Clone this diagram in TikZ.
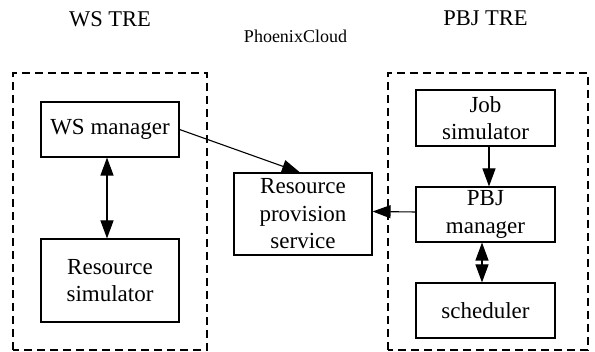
\documentclass[tikz,border=0pt]{standalone}
\usepackage{fontspec}
\setmainfont{Liberation Serif}
\usetikzlibrary{arrows.meta}
\begin{document}
\begin{tikzpicture}[x=1pt,y=1pt,
  >={Triangle[length=18pt,width=13pt]},
  box/.style={draw,line width=1.1pt,minimum width=138pt,align=center,inner sep=0pt,font=\rmfamily\fontsize{23}{27.5}\selectfont},
  group/.style={draw,line width=1.1pt,dash pattern=on 8pt off 5pt},
  title/.style={anchor=base,inner sep=0pt,font=\rmfamily\fontsize{22.5}{27}\selectfont},
  conn/.style={line width=1.1pt,->},
  dconn/.style={line width=1.1pt,<->}]
\useasboundingbox (0,0) rectangle (595,352);
% groups
\draw[group] (13,2) rectangle (207,279);
\draw[group] (388,2) rectangle (588,279);
% titles
\node[title] (tws) at (110,325) {WS TRE};
\node[title] (tpbj) at (485.5,326) {PBJ TRE};
\node[title,font=\rmfamily\fontsize{18}{22}\selectfont] (tpc) at (295.5,309) {PhoenixCloud};
% boxes
\node[box,minimum height=55pt] (wsm) at (110,222.5) {WS manager};
\node[box,minimum height=83pt] (rsim) at (110,71.5) {Resource\\simulator};
\node[box,minimum height=82pt] (rps) at (303,138) {Resource\\provision\\service};
\node[box,minimum width=139pt,minimum height=56pt] (job) at (485.5,234) {Job\\simulator};
\node[box,minimum width=139pt,minimum height=55pt] (pbj) at (485.5,137.5) {PBJ\\manager};
\node[box,minimum width=139pt,minimum height=55pt] (sch) at (485.5,41.5) {scheduler};
% connectors
\draw[dconn] ([xshift=-3pt]wsm.south) -- ([xshift=-3pt]rsim.north);
\draw[conn] (wsm.east) -- ([xshift=-3pt]rps.north);
\draw[conn] ([xshift=3.5pt]job.south) -- ([xshift=3.5pt]pbj.north);
\draw[conn] ([yshift=2.5pt]pbj.west) -- ([yshift=2.5pt]rps.east);
\draw[dconn] ([xshift=-3.5pt]pbj.south) -- ([xshift=-3.5pt]sch.north);
\end{tikzpicture}
\end{document}
